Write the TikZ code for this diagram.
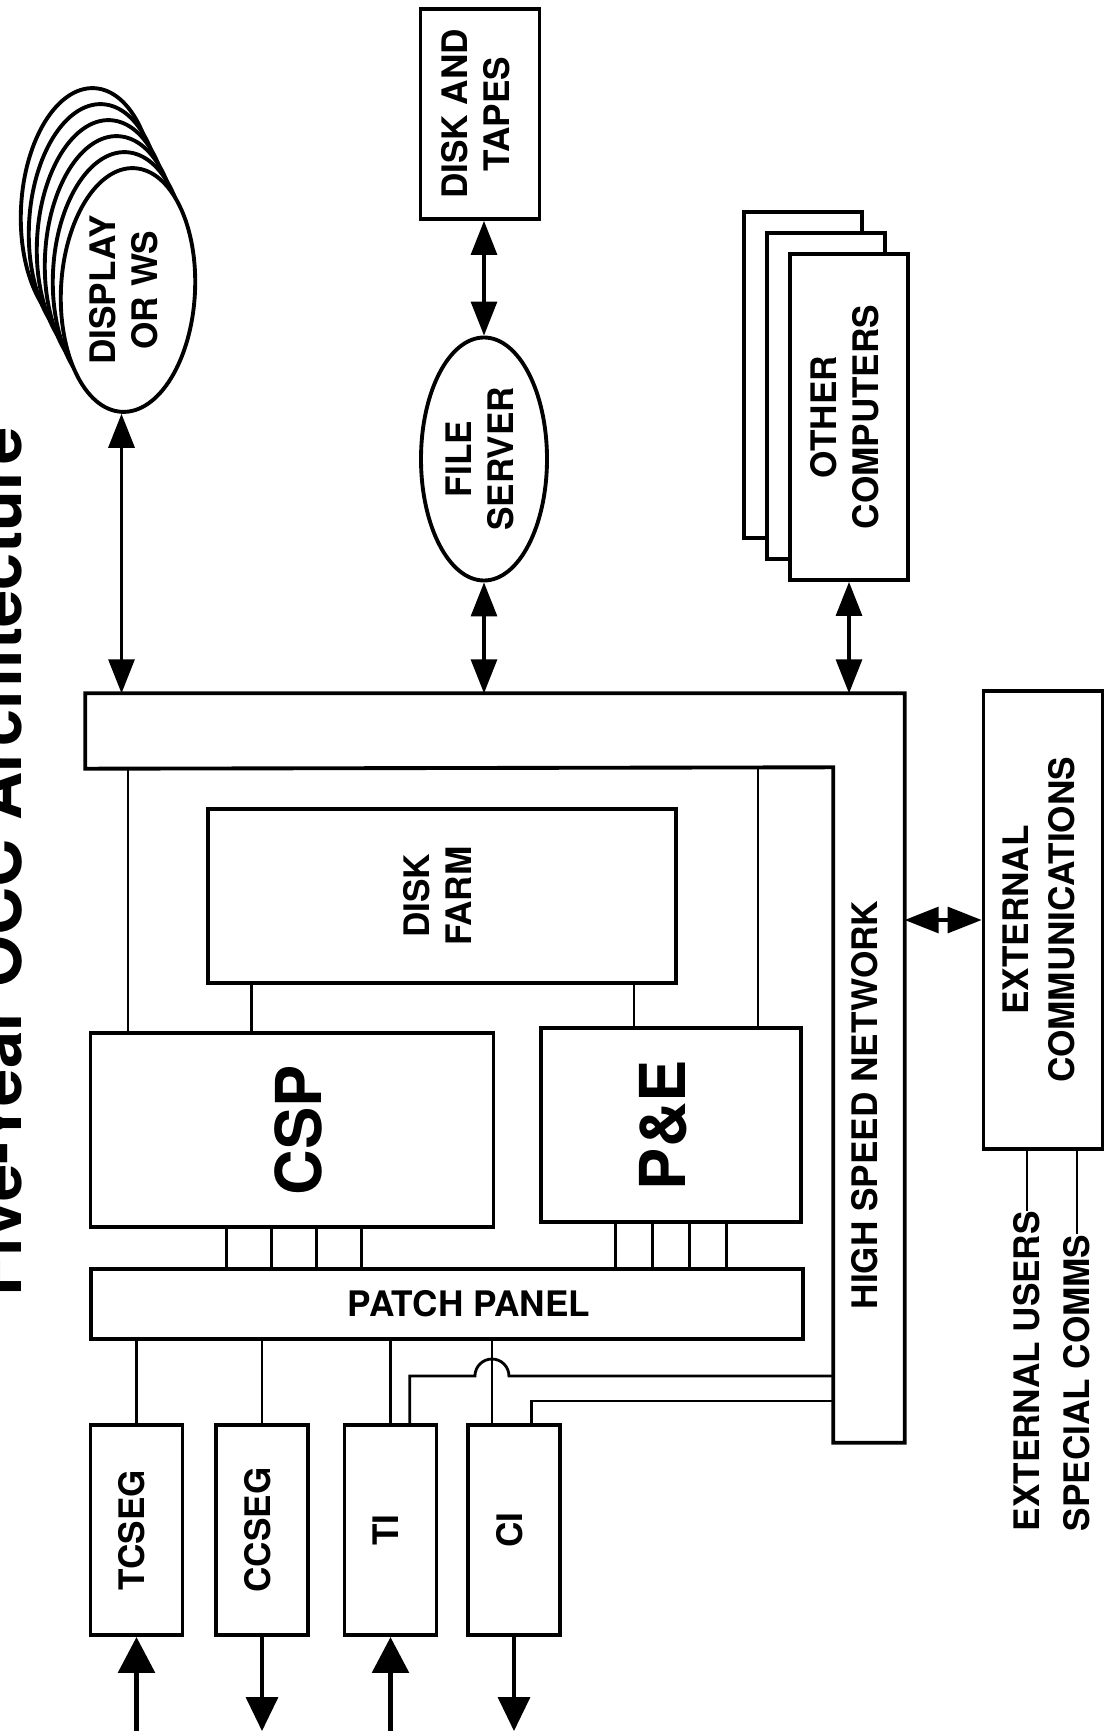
\documentclass[tikz,border=0pt]{standalone}
\usepackage{fontspec}
\usepackage{graphicx}
\setmainfont{TeX Gyre Heros}
\usetikzlibrary{arrows.meta, positioning, shapes.geometric, calc}

% upright text turned a quarter, lines stacked left to right
\newcommand{\vlabel}[1]{\rotatebox{90}{\begin{tabular}{@{}c@{}}#1\end{tabular}}}

\begin{document}
\begin{tikzpicture}[x=1mm, y=-1mm,
  box/.style={rectangle, draw=black, line width=1.1pt, fill=white, inner sep=0pt,
              font=\fontsize{10}{12}\selectfont\bfseries, align=center},
  bigbox/.style={box, font=\fontsize{18}{20}\selectfont\bfseries},
  oval/.style={box, ellipse},
  conn/.style={line width=0.8pt},
  dbl/.style={{Triangle[length=3.4mm, width=2.6mm]}-{Triangle[length=3.4mm, width=2.6mm]}, line width=0.9pt},
  inarr/.style={-{Triangle[length=3.6mm, width=3.6mm]}, line width=1.7pt},
  outarr/.style={-{Triangle[length=3.4mm, width=3.2mm]}, line width=1pt},
  lbl/.style={rotate=90, anchor=west, inner sep=0pt, font=\fontsize{10}{12}\selectfont\bfseries}
]
  \useasboundingbox (0,0) rectangle (110.5,173.3);

  % title, cut by the page edge
  \node[rotate=90, anchor=base, font=\fontsize{19}{22}\selectfont\bfseries] (title) at (2.1,86.2)
    {Five-Year OCC Architecture};

  % outside world
  \foreach \i in {5,...,1}
    \node[oval, rotate=-3, minimum width=13.4mm, minimum height=24.4mm] (ws\i)
      at ({12.8-0.8*\i},{29.0-1.6*\i}) {};
  \node[oval, rotate=-3, minimum width=13.4mm, minimum height=24.4mm] (ws0) at (12.8,29.0) {};
  \node[font=\fontsize{10}{12}\selectfont\bfseries, align=center] (disp) at (ws0) {\vlabel{DISPLAY\\OR WS}};

  \node[box, minimum width=11.9mm, minimum height=21mm] (dt) at (48.0,11.4) {\vlabel{DISK AND\\TAPES}};
  \node[oval, minimum width=12.6mm, minimum height=24.3mm] (fs) at (48.4,45.9) {\vlabel{FILE\\SERVER}};

  \foreach \i in {2,1}
    \node[box, minimum width=11.8mm, minimum height=32.6mm] (oc\i) at ({84.9-2.3*\i},{41.7-2.1*\i}) {};
  \node[box, minimum width=11.8mm, minimum height=32.6mm] (oc0) at (84.9,41.7) {\vlabel{OTHER\\COMPUTERS}};

  % bus and high speed network
  \node[inner sep=0pt, minimum width=81.8mm, minimum height=7.4mm] (bus) at (49.5,73.1) {};
  \node[inner sep=0pt, minimum width=7mm, minimum height=67.4mm, font=\fontsize{10}{12}\selectfont\bfseries]
    (hsn) at (86.9,110.5) {\vlabel{HIGH SPEED NETWORK}};
  \draw[line width=1.1pt] (bus.north west) -- (bus.north east) -- (hsn.south east)
    -- (hsn.south west) -- (hsn.north west) -- (bus.south west) -- cycle;

  \node[box, minimum width=11.9mm, minimum height=45.8mm] (extc) at (104.3,92.0)
    {\vlabel{EXTERNAL\\[1pt]COMMUNICATIONS}};
  \node[lbl] (eusr) at (102.7,153.2) {EXTERNAL USERS};
  \node[lbl] (scom) at (107.7,153.2) {SPECIAL COMMS};

  % processors
  \node[box, minimum width=46.8mm, minimum height=17.4mm] (farm) at (44.2,89.6) {\vlabel{DISK\\FARM}};
  \node[bigbox, minimum width=40.3mm, minimum height=19.4mm] (csp) at (29.2,113.0) {\hspace{3mm}\vlabel{CSP}};
  \node[bigbox, minimum width=26mm, minimum height=19.4mm] (pe) at (67.1,112.5) {\vlabel{P\&E}};
  \node[box, minimum width=71.2mm, minimum height=7mm] (pp) at (44.7,130.4) {\hspace{4.4mm}PATCH PANEL};

  \foreach \n/\t/\x in {tcseg/TCSEG/13.65, ccseg/CCSEG/26.2, ti/TI/39.05, ci/CI/51.4}
    \node[box, minimum width=9.2mm, minimum height=21mm] (\n) at (\x,153.0) {\vlabel{\t}};

  % links to the bus
  \draw[dbl] (ws0.south) -- (ws0.south |- bus.north);
  \draw[dbl] (fs.north |- dt.south) -- (fs.north);
  \draw[dbl] (fs.south) -- (fs.south |- bus.north);
  \draw[dbl] (oc0.south) -- (oc0.south |- bus.north);
  \draw[dbl] (extc.west -| hsn.east) -- (extc.west);

  \draw[conn] (eusr.east) -- (eusr.east |- extc.south);
  \draw[conn] (scom.east) -- (scom.east |- extc.south);

  \draw[conn] ($(csp.north west)!.097!(csp.north east)$) coordinate (c1) -- (c1 |- bus.south);
  \draw[conn] ($(csp.north west)!.40!(csp.north east)$) coordinate (c2) -- (c2 |- farm.south);
  \draw[conn] ($(pe.north west)!.36!(pe.north east)$) coordinate (p1) -- (p1 |- farm.south);
  \draw[conn] ($(pe.north west)!.83!(pe.north east)$) coordinate (p2) -- (p2 |- bus.south);

  % patch panel ports
  \foreach \f in {.34,.45,.56,.67}
    \draw[conn] ($(csp.south west)!\f!(csp.south east)$) coordinate (cp) -- (cp |- pp.north);
  \foreach \f in {.29,.43,.57,.71}
    \draw[conn] ($(pe.south west)!\f!(pe.south east)$) coordinate (pq) -- (pq |- pp.north);

  \draw[conn] (tcseg.north |- pp.south) -- (tcseg.north);
  \draw[conn] (ccseg.north |- pp.south) -- (ccseg.north);
  \draw[conn] (ti.north |- pp.south) -- (ti.north);
  \coordinate (cipp) at ($(ci.north west)!.27!(ci.north east)$);
  \draw[conn] (cipp |- pp.south) -- (cipp);

  % network taps to TI and CI
  \coordinate (lvlA) at (0,137.6);
  \coordinate (lvlB) at (0,140.1);
  \coordinate (hopa) at ($(ti.north west)!.70!(ti.north east)$);
  \coordinate (hopb) at ($(ci.north west)!.68!(ci.north east)$);
  \draw[conn] (hsn.west |- lvlA) -- ($(cipp |- lvlA)+(1.7,0)$)
    arc[start angle=0, end angle=180, radius=1.7mm] -- (hopa |- lvlA) -- (hopa);
  \draw[conn] (hsn.west |- lvlB) -- (hopb |- lvlB) -- (hopb);

  % feeds in and out
  \coordinate (edge) at (0,173.1);
  \draw[inarr] (tcseg.south |- edge) -- (tcseg.south);
  \draw[outarr] (ccseg.south) -- (ccseg.south |- edge);
  \draw[inarr] (ti.south |- edge) -- (ti.south);
  \draw[outarr] (ci.south) -- (ci.south |- edge);
\end{tikzpicture}
\end{document}
